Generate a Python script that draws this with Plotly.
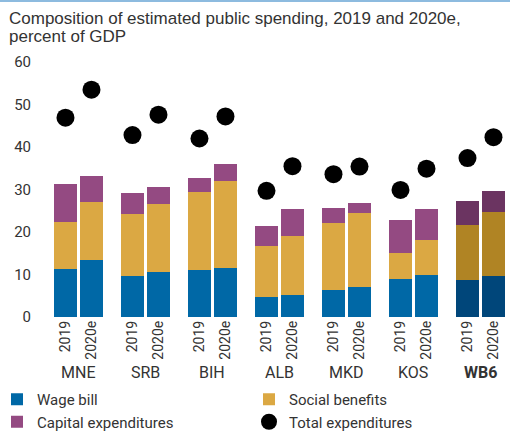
import plotly.graph_objects as go

# Data: percent of GDP
countries = ["MNE", "SRB", "BIH", "ALB", "MKD", "KOS", "WB6"]
years = ["2019", "2020e"]

wage_bill = [11.2, 13.4, 9.6, 10.5, 11.0, 11.5, 4.6, 5.1, 6.3, 7.0, 8.9, 9.8, 8.7, 9.6]
social_benefits = [11.1, 13.6, 14.6, 16.0, 18.4, 20.5, 12.1, 13.9, 15.8, 17.4, 6.1, 8.3, 12.9, 15.1]
capital_exp = [8.9, 6.2, 4.9, 4.1, 3.3, 4.0, 4.7, 6.4, 3.5, 2.4, 7.8, 7.3, 5.7, 4.9]
total_exp = [46.9, 53.5, 42.8, 47.6, 42.0, 47.2, 29.7, 35.5, 33.6, 35.4, 29.9, 34.9, 37.4, 42.3]

# Colours (regional aggregate drawn in darker shades)
BLUE, BLUE_DK = "#0068a6", "#00467a"
GOLD, GOLD_DK = "#dba843", "#b08424"
PURPLE, PURPLE_DK = "#944a82", "#6b3461"

GROUP_STEP = 2.577
BAR_W = 0.885
LABEL_FONT = "Roboto, Liberation Sans, sans-serif"
TITLE_FONT = "Liberation Sans, Arial, sans-serif"
TXT = "#333333"

W, H = 510, 434
M_T, M_B, M_L, M_R = 62, 117, 40, 2
plot_w = W - M_L - M_R
plot_h = H - M_T - M_B


def py(px):
    """Paper y coordinate for a pixel row of the page."""
    return (H - M_B - px) / plot_h


def pxx(px):
    """Paper x coordinate for a pixel column of the page."""
    return (px - M_L) / plot_w


n_years = len(years)
xpos = [g * GROUP_STEP + j for g in range(len(countries)) for j in range(n_years)]
ticktext = [y for _ in countries for y in years]
is_agg = [countries[i // n_years] == "WB6" for i in range(len(xpos))]


def shade(base, dark):
    return [dark if a else base for a in is_agg]


fig = go.Figure()
fig.add_trace(go.Bar(x=xpos, y=wage_bill, name="Wage bill", width=BAR_W,
                     marker=dict(color=shade(BLUE, BLUE_DK), line=dict(width=0))))
fig.add_trace(go.Bar(x=xpos, y=social_benefits, name="Social benefits", width=BAR_W,
                     marker=dict(color=shade(GOLD, GOLD_DK), line=dict(width=0))))
fig.add_trace(go.Bar(x=xpos, y=capital_exp, name="Capital expenditures", width=BAR_W,
                     marker=dict(color=shade(PURPLE, PURPLE_DK), line=dict(width=0))))
fig.add_trace(go.Scatter(x=xpos, y=total_exp, name="Total expenditures", mode="markers",
                         marker=dict(color="black", size=18)))

annotations = []
# Chart title, two lines set close together
for text, ypx in [("Composition of estimated public spending, 2019 and 2020e,", 19),
                  ("percent of GDP", 37)]:
    annotations.append(dict(x=pxx(7), y=py(ypx), xref="paper", yref="paper", text=text,
                            showarrow=False, xanchor="left", yanchor="middle",
                            font=dict(family=TITLE_FONT, size=17, color=TXT)))

# Country labels under the year ticks
for g, c in enumerate(countries):
    label = f"<b>{c}</b>" if c == "WB6" else c
    annotations.append(dict(x=g * GROUP_STEP + 0.5, y=py(372), xref="x", yref="paper",
                            text=label, showarrow=False, yanchor="middle",
                            font=dict(family=LABEL_FONT, size=16, color=TXT)))

fig.update_layout(
    width=W, height=H,
    margin=dict(t=M_T, b=M_B, l=M_L, r=M_R, autoexpand=False),
    plot_bgcolor="white", paper_bgcolor="white",
    barmode="stack", bargap=0,
    xaxis=dict(range=[-0.98, 17.02], tickvals=xpos, ticktext=ticktext, tickangle=-90,
               showgrid=False, zeroline=False, showline=False, ticks="",
               tickfont=dict(family=LABEL_FONT, size=14, color=TXT)),
    yaxis=dict(range=[0, 60], dtick=10, showgrid=False, zeroline=False, showline=False,
               ticks="", ticklabelstandoff=8,
               tickfont=dict(family=LABEL_FONT, size=15, color=TXT)),
    legend=dict(orientation="h", x=pxx(-3), xanchor="left",
                y=py(383), yanchor="top",
                entrywidth=207, entrywidthmode="pixels", traceorder="normal",
                font=dict(family=LABEL_FONT, size=15, color=TXT)),
    annotations=annotations,
    shapes=[dict(type="line", xref="paper", yref="paper", x0=pxx(0), x1=pxx(W),
                 y0=py(1), y1=py(1), line=dict(color="#8dbbdf", width=2))],
    showlegend=True,
)

fig.write_html("out.html")
